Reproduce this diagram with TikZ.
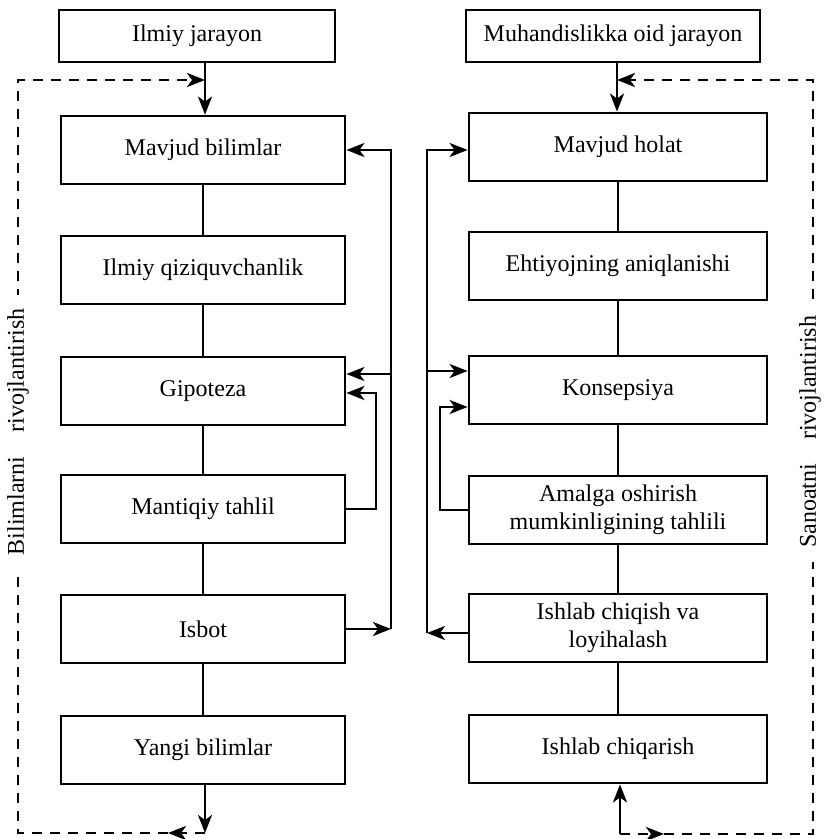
\documentclass[tikz,border=0pt]{standalone}
\usepackage{fontspec}
\setmainfont{Liberation Serif}
\usetikzlibrary{arrows.meta,calc,positioning}

\begin{document}
\begin{tikzpicture}[x=0.5pt, y=-0.5pt,
  box/.style={draw, line width=1.4pt, minimum width=142pt, minimum height=34pt, align=center, inner sep=2pt, font=\fontsize{12}{14}\selectfont},
  ln/.style={line width=1.4pt},
  arr/.style={line width=1.4pt, -{Stealth[length=9pt,width=7pt,inset=2.5pt]}},
  dline/.style={line width=1.4pt, dash pattern=on 5pt off 4pt},
  lbl/.style={rotate=90, fill=white, inner xsep=7pt, inner ysep=1pt, font=\fontsize{12}{14}\selectfont}]

\useasboundingbox (0,0) rectangle (824,839);

% Ilmiy jarayon
\node[box, minimum width=138pt, minimum height=26pt] (ilm) at (197,36) {Ilmiy jarayon};
\node[box] (mbil) at (203,150) {Mavjud bilimlar};
\node[box] (qiz)  at (203,270) {Ilmiy qiziquvchanlik};
\node[box] (gip)  at (203,391) {Gipoteza};
\node[box] (mant) at (203,509) {Mantiqiy tahlil};
\node[box] (isb)  at (203,629) {Isbot};
\node[box] (yang) at (203,750) {Yangi bilimlar};

% Muhandislikka oid jarayon
\node[box, minimum width=147pt, minimum height=26pt] (muh) at (613,36) {Muhandislikka oid jarayon};
\node[box, minimum width=149pt] (mhol) at (618,147) {Mavjud holat};
\node[box, minimum width=149pt] (ehti) at (618,266) {Ehtiyojning aniqlanishi};
\node[box, minimum width=149pt] (kons) at (618,390) {Konsepsiya};
\node[box, minimum width=149pt] (amal) at (618,510) {Amalga oshirish\\mumkinligining tahlili};
\node[box, minimum width=149pt] (ichl) at (618,628) {Ishlab chiqish va\\loyihalash};
\node[box, minimum width=149pt] (ichq) at (618,749) {Ishlab chiqarish};

\coordinate (ltop) at (205,80);
\coordinate (lbot) at (205,833);
\coordinate (lb1)  at (168,833);
\coordinate (lc1)  at (18,833);
\coordinate (lc2)  at (18,80);
\coordinate (lbus) at (391,0);
\coordinate (lrp)  at (376,0);

\coordinate (rtop) at (617,80);
\coordinate (rbot) at (620,834);
\coordinate (rb1)  at (664,834);
\coordinate (rc1)  at (813,834);
\coordinate (rc2)  at (813,80);
\coordinate (rbus) at (427,0);
\coordinate (rrp)  at (440,0);

% chap ustun
\draw[arr] (ilm.south -| ltop) -- (mbil.north -| ltop);
\draw[ln] (mbil) -- (qiz);
\draw[ln] (qiz) -- (gip);
\draw[ln] (gip) -- (mant);
\draw[ln] (mant) -- (isb);
\draw[ln] (isb) -- (yang);
\draw[arr] (yang.south -| lbot) -- (lbot);
\draw[dline, -{Stealth[length=9pt,width=7pt,inset=2.5pt]}] (lbot) -- (lb1);
\draw[dline, -{Stealth[length=9pt,width=7pt,inset=2.5pt]}] (lb1) -- (lc1) -- (lc2) -- (ltop);

\draw[arr] (isb.east) -- (isb.east -| lbus);
\draw[arr] (isb.east -| lbus) |- (mbil.east);
\draw[arr] ([yshift=8.5pt]gip.east -| lbus) -- ([yshift=8.5pt]gip.east);
\draw[arr] (mant.east) -- (mant.east -| lrp) |- ([yshift=-1pt]gip.east);

% o'ng ustun
\draw[arr] (muh.south -| rtop) -- (mhol.north -| rtop);
\draw[ln] (mhol) -- (ehti);
\draw[ln] (ehti) -- (kons);
\draw[ln] (kons) -- (amal);
\draw[ln] (amal) -- (ichl);
\draw[ln] (ichl) -- (ichq);
\draw[arr] (rbot) -- (ichq.south -| rbot);
\draw[dline, -{Stealth[length=9pt,width=7pt,inset=2.5pt]}] (rbot) -- (rb1);
\draw[dline, -{Stealth[length=9pt,width=7pt,inset=2.5pt]}] (rb1) -- (rc1) -- (rc2) -- (rtop);

\draw[arr] ([yshift=-2.5pt]ichl.west) -- ([yshift=-2.5pt]ichl.west -| rbus);
\draw[arr] ([yshift=-2.5pt]ichl.west -| rbus) |- ([yshift=-1.5pt]mhol.west);
\draw[arr] ([yshift=9.5pt]kons.west -| rbus) -- ([yshift=9.5pt]kons.west);
\draw[arr] (amal.west) -- (amal.west -| rrp) |- ([yshift=-8.5pt]kons.west);

% yon yozuvlar
\node[lbl] (blab) at (18,432) {Bilimlarni\quad rivojlantirish};
\node[lbl] (slab) at (810,432) {Sanoatni\quad rivojlantirish};

\end{tikzpicture}
\end{document}
